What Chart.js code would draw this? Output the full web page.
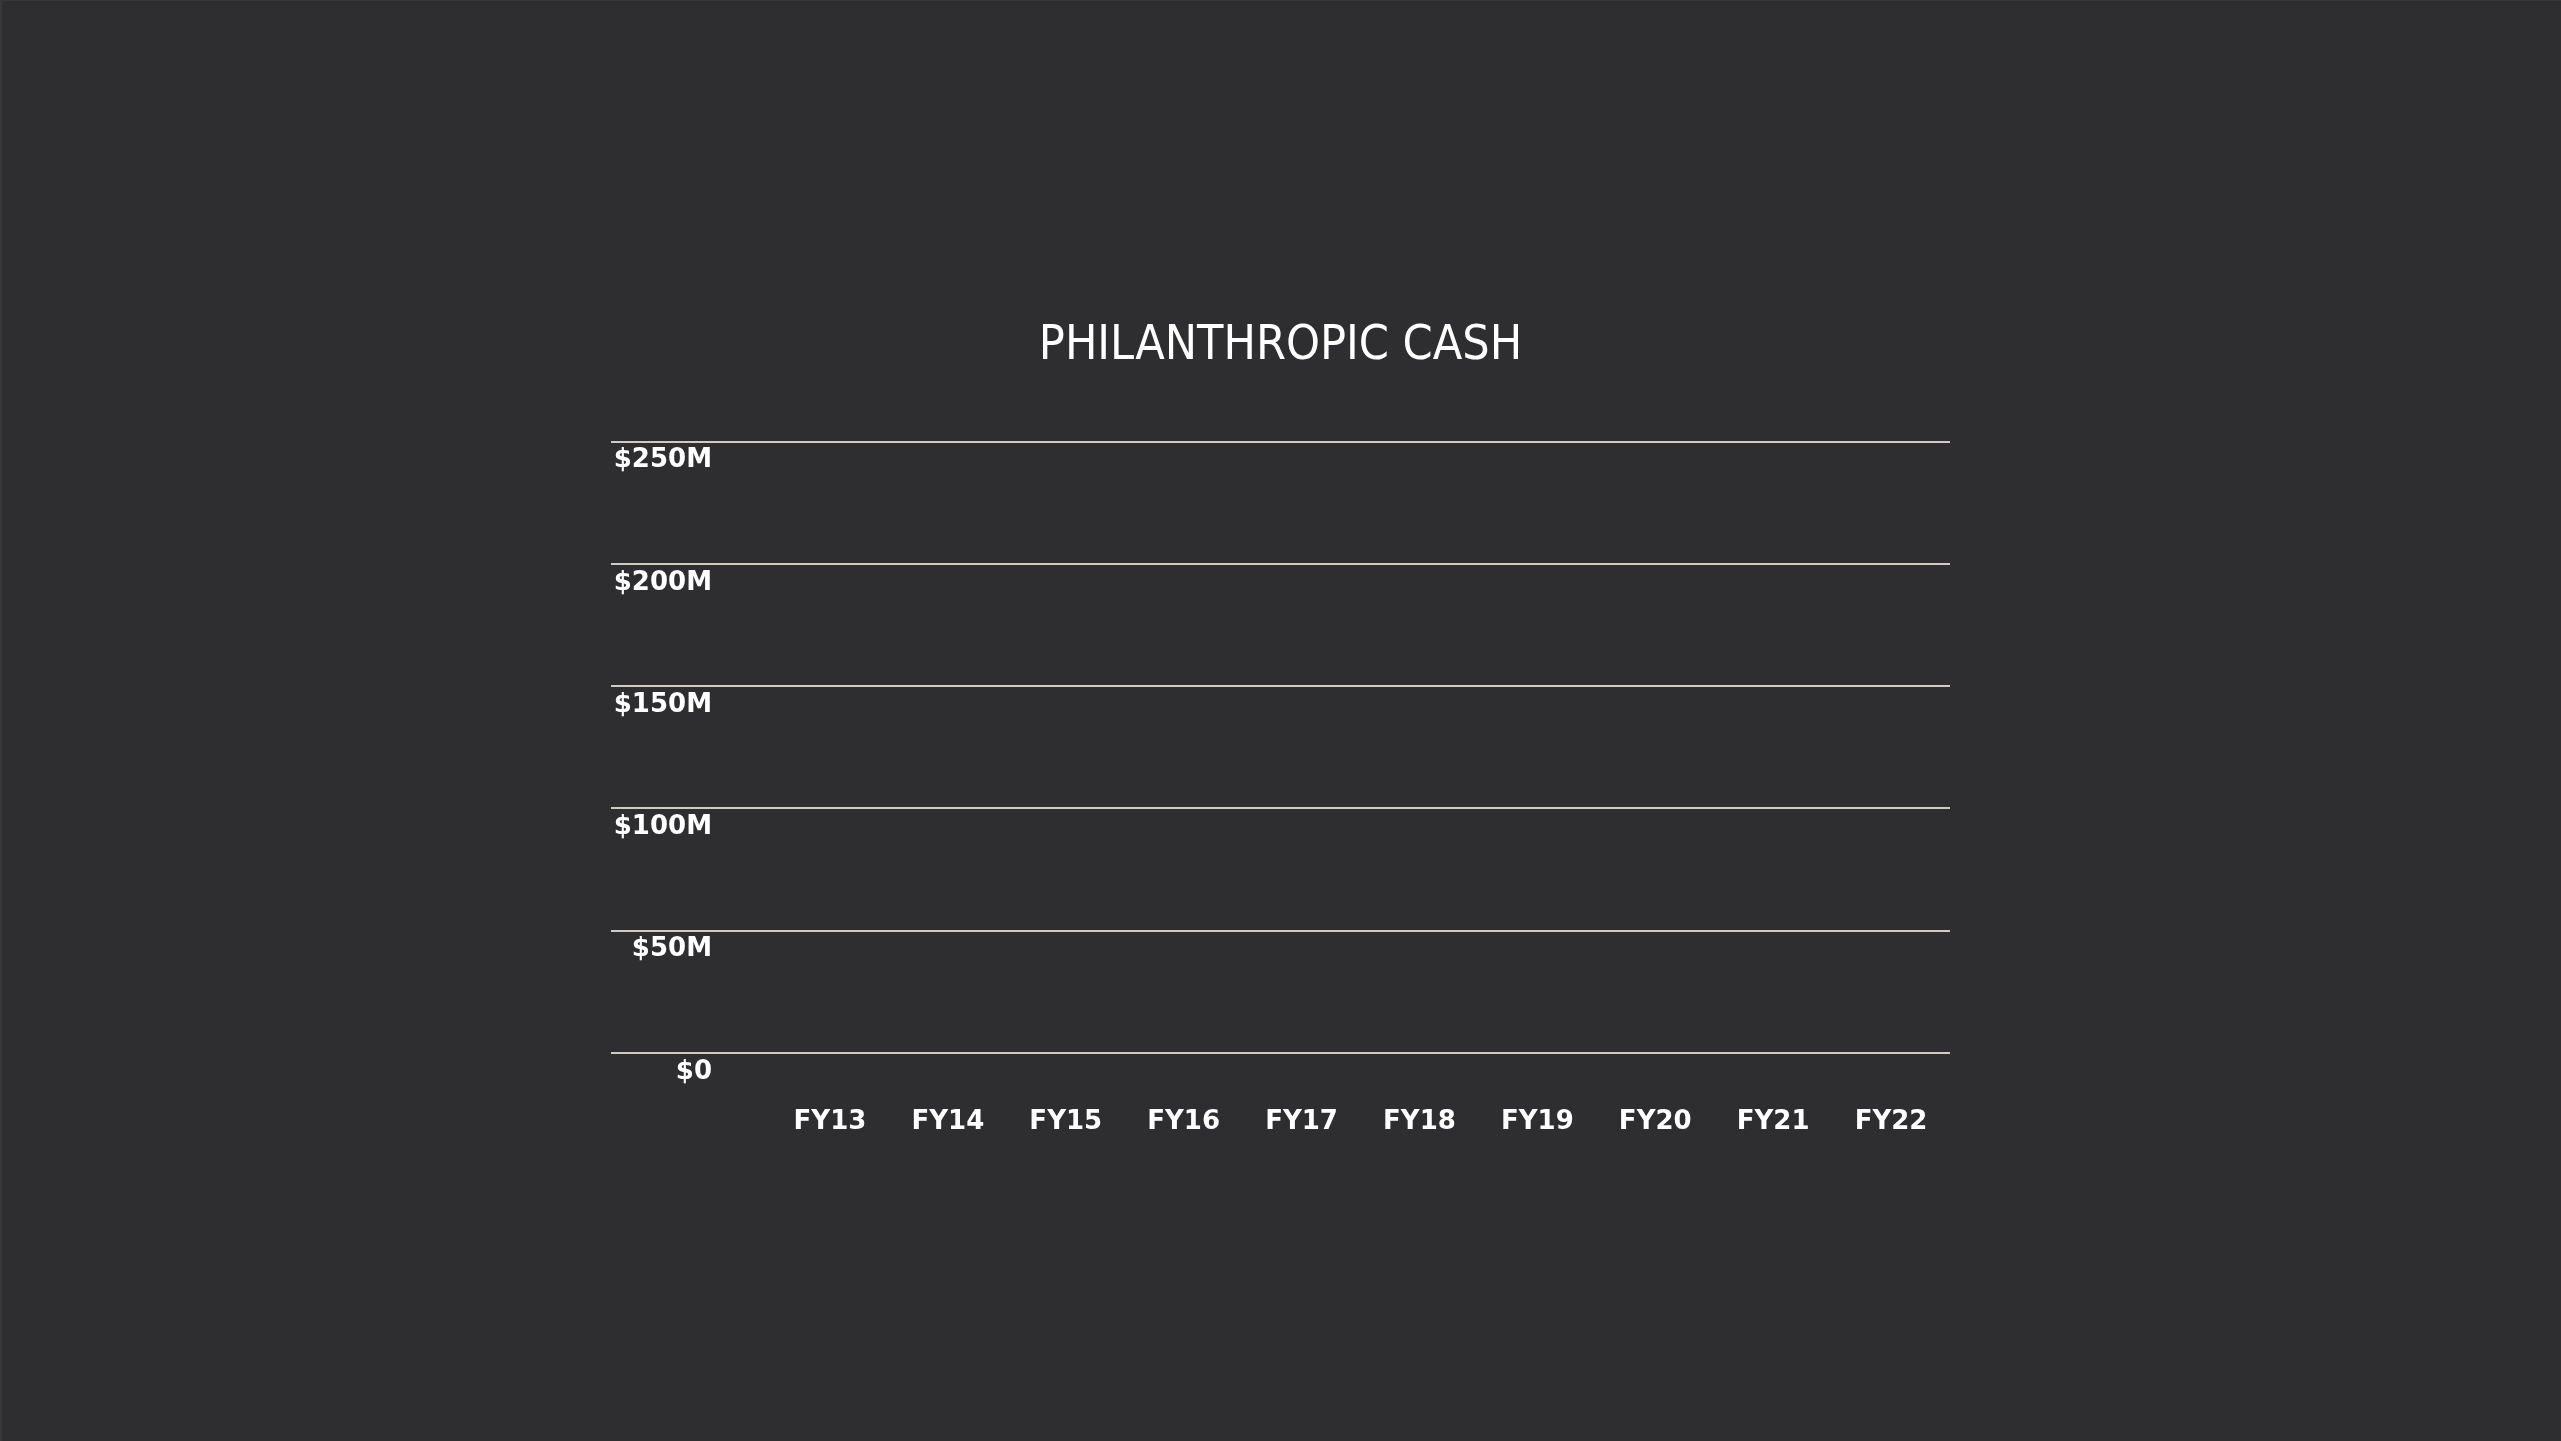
<!DOCTYPE html>
<html>
<head>
<meta charset="utf-8">
<script src="https://cdn.jsdelivr.net/npm/chart.js@4/dist/chart.umd.min.js"></script>
<style>
  html, body { margin: 0; padding: 0; background: #2e2e30; overflow: hidden; }
  #wrap { width: 2561px; height: 1441px; position: relative; }
  canvas { display: block; }
  #edge { position: absolute; left: 0; top: 0; width: 2561px; height: 1441px; box-sizing: border-box;
          border-left: 2px solid #38383a; border-top: 1px solid #363638; pointer-events: none; }
</style>
</head>
<body>
<div id="wrap"><canvas id="c" width="2561" height="1441"></canvas><div id="edge"></div></div>
<script>
// Data (no bars are visible in the picture)
const titleText = 'PHILANTHROPIC CASH';
const categories = ['FY13', 'FY14', 'FY15', 'FY16', 'FY17', 'FY18', 'FY19', 'FY20', 'FY21', 'FY22'];
const cashValues = [null, null, null, null, null, null, null, null, null, null];
const yTickValues = [0, 50, 100, 150, 200, 250];
const yTickLabels = ['$0', '$50M', '$100M', '$150M', '$200M', '$250M'];

const ctx = document.getElementById('c').getContext('2d');
new Chart(ctx, {
  type: 'bar',
  data: {
    labels: categories,
    datasets: [{
      label: 'Philanthropic cash',
      data: cashValues,
      backgroundColor: '#c8c6bd',
      borderWidth: 0
    }]
  },
  options: {
    responsive: false,
    animation: false,
    devicePixelRatio: 1,
    layout: { padding: { left: 611, right: 611, top: 0, bottom: 249 } },
    plugins: {
      legend: { display: false },
      tooltip: { enabled: false },
      title: {
        display: true,
        text: titleText,
        color: '#ffffff',
        font: { family: '"DejaVu Sans"', size: 48, weight: 'normal condensed', lineHeight: 1.2 },
        padding: { top: 318, bottom: 66 }
      }
    },
    scales: {
      x: {
        grid: { display: false, drawTicks: false },
        border: { display: false },
        ticks: {
          color: '#ffffff',
          padding: 54,
          font: { family: '"DejaVu Sans", sans-serif', size: 26, weight: 'bold', lineHeight: 1.2 }
        }
      },
      y: {
        min: 0,
        max: 250,
        afterFit: (s) => { s.width = 160; },
        afterBuildTicks: (s) => { s.ticks = yTickValues.map(v => ({ value: v })); },
        grid: { color: '#cdcbc2', lineWidth: 2, drawTicks: true, tickLength: 160 },
        border: { display: false },
        ticks: {
          color: '#ffffff',
          padding: -101,
          labelOffset: 19,
          font: { family: '"DejaVu Sans", sans-serif', size: 26, weight: 'bold', lineHeight: 1.2 },
          callback: (v) => yTickLabels[yTickValues.indexOf(v)]
        }
      }
    }
  }
});
</script>
</body>
</html>
